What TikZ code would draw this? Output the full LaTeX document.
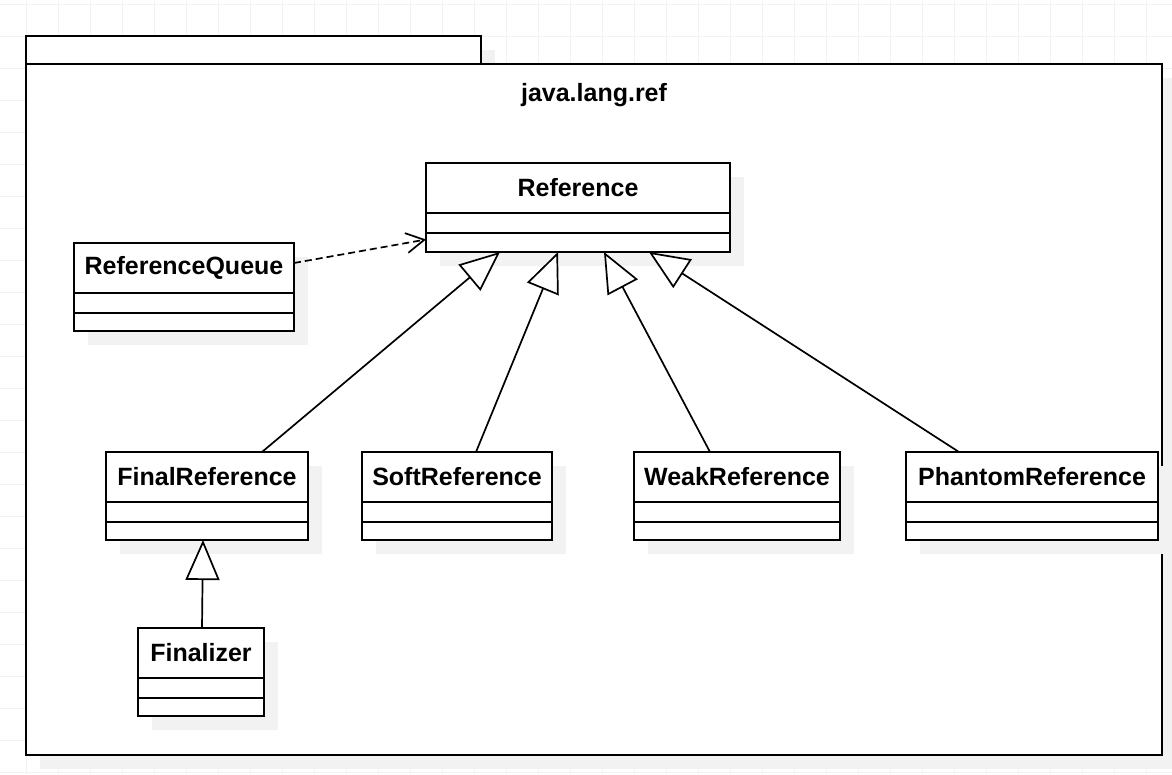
\documentclass[tikz,border=0pt]{standalone}
\usepackage{fontspec}
\setmainfont{Liberation Sans}
\usetikzlibrary{arrows.meta,positioning,shadows}

\begin{document}
\begin{tikzpicture}[x=1pt,y=-1pt,
      gridline/.style={draw=black!5,line width=1pt},
      shade/.style={general shadow={fill=black!5,shadow xshift=14pt,shadow yshift=-14pt}},
      pkg/.style={draw,fill=white,line width=2.2pt,shade},
      box/.style={draw,fill=white,line width=1.8pt,inner sep=0pt,outer sep=0pt,shade},
      head/.style={box,minimum height=50pt,font=\fontsize{25}{30}\selectfont\bfseries},
      slot/.style={box,minimum height=20pt},
      extends/.style={-{Triangle[open,fill=white,length=40pt,width=34pt]},line width=1.7pt},
      uses/.style={-{Straight Barb[length=18pt,width=20pt]},line width=1.7pt,
        dash pattern=on 7pt off 4pt}]
      \useasboundingbox (0,0) rectangle (1172,774);

      % grid
      \foreach \x in {26.7,58.7,...,1172} \draw[gridline] (\x,0) -- (\x,774);
      \foreach \y in {4,36,...,774} \draw[gridline] (0,\y) -- (1172,\y);

      % package
      \draw[pkg] (26,36) rectangle (481,64);
      \draw[pkg] (26,64) rectangle (1162,755);
      \node[font=\fontsize{25}{30}\selectfont\bfseries,anchor=base] (title) at (594,101) {java.lang.ref};

      % classes
      \node[head,minimum width=304pt,anchor=north west] (ref) at (426,163) {Reference};
      \node[slot,minimum width=304pt,below=0pt of ref] (ref-a) {};
      \node[slot,minimum width=304pt,minimum height=19pt,below=0pt of ref-a] (ref-o) {};

      \node[head,minimum width=220pt,anchor=north west] (rq) at (74,243) {ReferenceQueue};
      \node[slot,minimum width=220pt,below=0pt of rq] (rq-a) {};
      \node[slot,minimum width=220pt,minimum height=18pt,below=0pt of rq-a] (rq-o) {};

      \node[head,minimum width=202pt,anchor=north west] (fin) at (106,452) {FinalReference};
      \node[slot,minimum width=202pt,below=0pt of fin] (fin-a) {};
      \node[slot,minimum width=202pt,minimum height=18pt,below=0pt of fin-a] (fin-o) {};

      \node[head,minimum width=190pt,anchor=north west] (soft) at (362,452) {SoftReference};
      \node[slot,minimum width=190pt,below=0pt of soft] (soft-a) {};
      \node[slot,minimum width=190pt,minimum height=18pt,below=0pt of soft-a] (soft-o) {};

      \node[head,minimum width=206pt,anchor=north west] (weak) at (634,452) {WeakReference};
      \node[slot,minimum width=206pt,below=0pt of weak] (weak-a) {};
      \node[slot,minimum width=206pt,minimum height=18pt,below=0pt of weak-a] (weak-o) {};

      \node[head,minimum width=252pt,anchor=north west] (phan) at (906,452) {PhantomReference};
      \node[slot,minimum width=252pt,below=0pt of phan] (phan-a) {};
      \node[slot,minimum width=252pt,minimum height=18pt,below=0pt of phan-a] (phan-o) {};

      \node[head,minimum width=126pt,anchor=north west] (fz) at (138,628) {Finalizer};
      \node[slot,minimum width=126pt,below=0pt of fz] (fz-a) {};
      \node[slot,minimum width=126pt,minimum height=18pt,below=0pt of fz-a] (fz-o) {};

      % relations
      \draw[extends] ([xshift=55pt]fin.north) -- ([xshift=-78pt]ref-o.south);
      \draw[extends] ([xshift=19pt]soft.north) -- ([xshift=-20pt]ref-o.south);
      \draw[extends] ([xshift=-27pt]weak.north) -- ([xshift=26pt]ref-o.south);
      \draw[extends] ([xshift=-73pt]phan.north) -- ([xshift=71pt]ref-o.south);
      \draw[extends] ([xshift=1pt]fz.north) -- ([xshift=-4pt]fin-o.south);
      \draw[uses] ([yshift=5pt]rq.east) -- ([yshift=3pt]ref-o.west);

\end{tikzpicture}
\end{document}
